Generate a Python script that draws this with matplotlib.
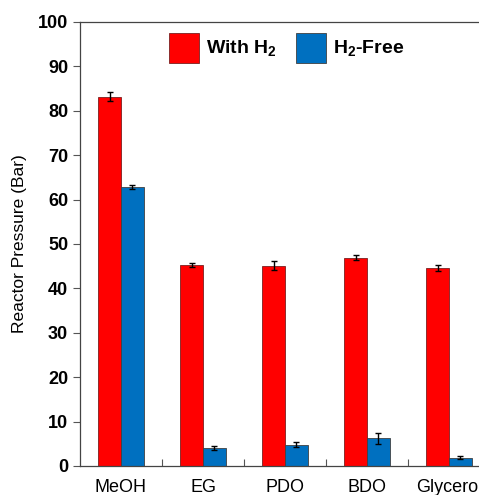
import matplotlib
matplotlib.use("Agg")
import matplotlib.pyplot as plt
import numpy as np

categories = ["MeOH", "EG", "PDO", "BDO", "Glycerol"]
with_h2 = [83.2, 45.3, 45.1, 46.9, 44.6]
with_h2_err = [1.0, 0.4, 1.0, 0.6, 0.6]
h2_free = [62.8, 4.0, 4.8, 6.2, 1.9]
h2_free_err = [0.4, 0.4, 0.6, 1.3, 0.4]

plt.rcParams['font.family'] = ['Liberation Sans', 'DejaVu Sans']
plt.rcParams['mathtext.fontset'] = 'custom'
plt.rcParams['mathtext.rm'] = 'Liberation Sans'
plt.rcParams['mathtext.bf'] = 'Liberation Sans:bold'

W, H = 479, 495
fig = plt.figure(figsize=(W/100, H/100), dpi=100)
ax = fig.add_axes([80/W, 1 - 466/H, 410/W, 444/H])

x = np.arange(len(categories))
bw = 0.28
ax.bar(x - bw/2, with_h2, bw, color='#FF0000', edgecolor='#7a2020', linewidth=0.6,
       yerr=with_h2_err, error_kw=dict(ecolor='black', elinewidth=1, capsize=2.5, capthick=1),
       label=r'With H$_\mathbf{2}$')
ax.bar(x + bw/2, h2_free, bw, color='#0070C0', edgecolor='#404040', linewidth=0.6,
       yerr=h2_free_err, error_kw=dict(ecolor='black', elinewidth=1, capsize=2.5, capthick=1),
       label=r'H$_\mathbf{2}$-Free')

ax.set_xlim(-0.5, len(categories) - 0.5)
ax.set_ylim(0, 100)
ax.set_yticks(range(0, 101, 10))
ax.set_xticks(x)
ax.set_xticklabels(categories, fontsize=13)
ax.set_xticks(np.arange(0.5, len(categories) - 0.5, 1), minor=True)
ax.tick_params(axis='x', which='major', length=0, pad=9)
ax.tick_params(axis='x', which='minor', direction='in', length=5, width=0.8, color='#555555')
ax.tick_params(axis='y', direction='out', length=5, width=0.8, color='#555555', labelsize=13)
for lab in ax.get_yticklabels():
    lab.set_fontweight('bold')
for s in ax.spines.values():
    s.set_linewidth(0.9)
    s.set_color('#444444')
ax.set_ylabel('Reactor Pressure (Bar)', fontsize=12.5, labelpad=8)

leg = ax.legend(loc='upper left', bbox_to_anchor=(169/W, 1 - 33/H), bbox_transform=fig.transFigure,
                ncol=2, frameon=False, prop=dict(size=14, weight='bold'), borderpad=0, borderaxespad=0,
                handlelength=1.55, handleheight=2.0, handletextpad=0.35, columnspacing=1.0)

fig.savefig('out.png', dpi=100)
